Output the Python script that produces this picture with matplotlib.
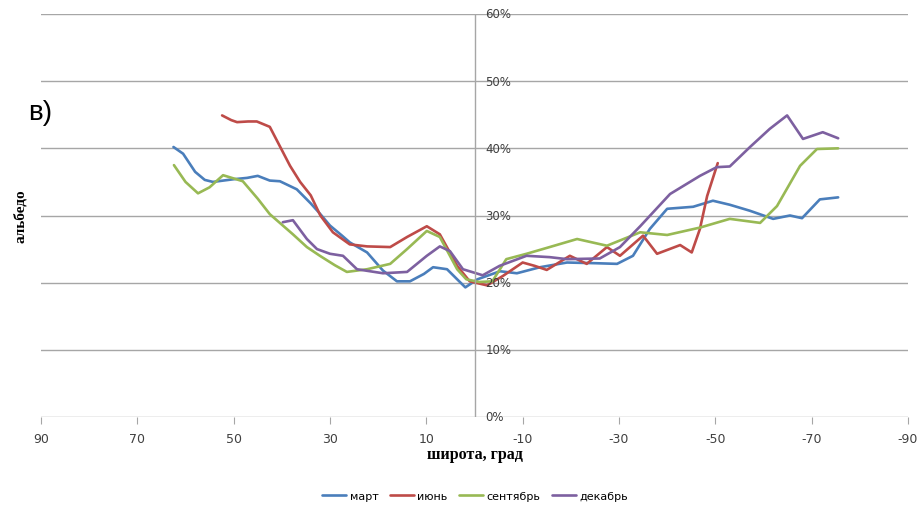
import matplotlib
matplotlib.use("Agg")
import matplotlib.pyplot as plt
from matplotlib.transforms import blended_transform_factory

# latitude (deg) / albedo (%)
mar_lat = [62.5, 60.5, 58, 56, 54.3, 50, 47.2, 45, 42.5, 40.4, 36.9, 34, 32, 30, 27.5, 25.9,
           22.3, 19, 16.1, 13.4, 10.5, 8.6, 5.7, 3.6, 1.9, -0.6, -5.3, -8.8, -13.6, -19.2,
           -25, -29.6, -32.9, -36.4, -40, -45.4, -49.5, -53, -57.2, -62, -65.5, -68, -71.7, -75.5]
mar_alb = [40.2, 39.2, 36.5, 35.3, 35.0, 35.4, 35.6, 35.9, 35.2, 35.1, 33.9, 31.8, 30.2, 28.5, 27.0, 26.0,
           24.5, 21.8, 20.2, 20.2, 21.3, 22.3, 22.0, 20.5, 19.3, 20.5, 21.7, 21.4, 22.3, 23.0,
           22.9, 22.8, 24.0, 28.0, 31.0, 31.3, 32.2, 31.6, 30.7, 29.5, 30.0, 29.6, 32.4, 32.7]

jun_lat = [52.4, 50.5, 49.3, 47, 45.2, 42.5, 40.4, 38.3, 36.2, 34, 32, 29.4, 25.9, 22.3, 17.5,
           14, 9.9, 7.2, 5.5, 3.6, 1, -2.6, -5.9, -10, -12.5, -15, -19.8, -23.3, -27.5, -30.2,
           -35, -37.9, -42.7, -45.1, -46.8, -48.3, -50.5]
jun_alb = [44.9, 44.2, 43.9, 44.0, 44.0, 43.2, 40.3, 37.4, 35.0, 33.0, 30.0, 27.5, 25.7, 25.4, 25.3,
           26.8, 28.4, 27.2, 25.0, 22.5, 20.2, 19.6, 21.0, 23.0, 22.5, 21.9, 24.0, 22.8, 25.3, 24.0,
           27.0, 24.3, 25.6, 24.5, 28.0, 32.9, 37.8]

sep_lat = [62.4, 60, 57.4, 55, 52.2, 48.1, 45, 42.5, 37.7, 34.8, 32.1, 29, 26.5, 22.3, 17.5, 14,
           9.9, 7.2, 3.6, 1.7, -1, -3.7, -6.6, -10.8, -15.6, -21.3, -27.5, -34.4, -40, -46.8,
           -53, -59.3, -62.8, -67.6, -71.1, -75.5]
sep_alb = [37.5, 35.0, 33.3, 34.2, 36.0, 35.1, 32.5, 30.2, 27.2, 25.3, 24.0, 22.6, 21.6, 22.0, 22.8, 25.0,
           27.7, 26.8, 22.0, 20.5, 20.1, 20.2, 23.5, 24.3, 25.3, 26.5, 25.5, 27.5, 27.1, 28.2,
           29.5, 28.9, 31.4, 37.4, 39.9, 40.0]

dec_lat = [39.8, 37.7, 34.8, 32.7, 30, 27.3, 24.4, 19, 14, 9.9, 7.2, 5.1, 2.4, -1.7, -5.2, -10.8,
           -15.6, -19.2, -26, -30.2, -34.4, -40.6, -46.8, -50.3, -53, -57.2, -61.3, -64.9, -68.2,
           -72.3, -75.5]
dec_alb = [29.0, 29.3, 26.5, 25.0, 24.3, 24.0, 22.0, 21.4, 21.6, 24.0, 25.4, 24.7, 22.0, 21.1, 22.5, 24.0,
           23.8, 23.5, 23.6, 25.3, 28.4, 33.2, 35.9, 37.2, 37.3, 40.2, 42.9, 44.9, 41.4,
           42.4, 41.5]

x_ticks = [90, 70, 50, 30, 10, -10, -30, -50, -70, -90]
y_ticks = [0, 10, 20, 30, 40, 50, 60]

series = [("март", mar_lat, mar_alb, "#4A7EBB"),
          ("июнь", jun_lat, jun_alb, "#BE4B48"),
          ("сентябрь", sep_lat, sep_alb, "#98B954"),
          ("декабрь", dec_lat, dec_alb, "#7D60A0")]

GRID = "#a6a6a6"
fig = plt.figure(figsize=(9.18, 5.06), dpi=100)
ax = fig.add_axes([41 / 918, 1 - 418 / 506, 867 / 918, 403 / 506])

for name, xs, ys, c in series:
    ax.plot(xs, ys, color=c, lw=1.9, label=name, solid_joinstyle="round", solid_capstyle="round")

ax.set_xlim(90, -90)
ax.set_ylim(0, 60)
ax.set_yticks(y_ticks)
ax.yaxis.grid(True, color=GRID, lw=1)
ax.tick_params(axis="y", left=False, labelleft=False)
ax.set_xticks(x_ticks)
ax.set_xticklabels([str(t) for t in x_ticks], fontsize=9, color="#404040",
                   family=["Liberation Sans Narrow", "DejaVu Sans"])
ax.tick_params(axis="x", direction="out", length=5, color=GRID, pad=6)
for s in ax.spines.values():
    s.set_visible(False)
ax.axvline(0, color=GRID, lw=1)

for v in y_ticks:
    ax.text(-2.3, v, f"{v}%", ha="left", va="center", fontsize=8.5, color="#404040",
            family=["Liberation Sans Narrow", "DejaVu Sans"])

fig.text(20 / 918, 1 - 216 / 506, "альбедо", rotation=90, ha="center", va="center",
         fontsize=11, fontweight="bold", family="Liberation Serif")
fig.text(475 / 918, 1 - 455 / 506, "широта, град", ha="center", va="center",
         fontsize=11.5, fontweight="bold", family="Liberation Serif")
fig.text(28 / 918, 1 - 113 / 506, "в)", ha="left", va="center", fontsize=20, family="Liberation Sans")

fig.legend(loc="center", bbox_to_anchor=(475 / 918, 1 - 497 / 506), ncol=4, frameon=False,
           fontsize=8, handlelength=2.2, columnspacing=1.0, handletextpad=0.3,
           prop={"family": ["Liberation Sans Narrow", "DejaVu Sans"], "size": 8})

fig.savefig("out.png", dpi=100)
